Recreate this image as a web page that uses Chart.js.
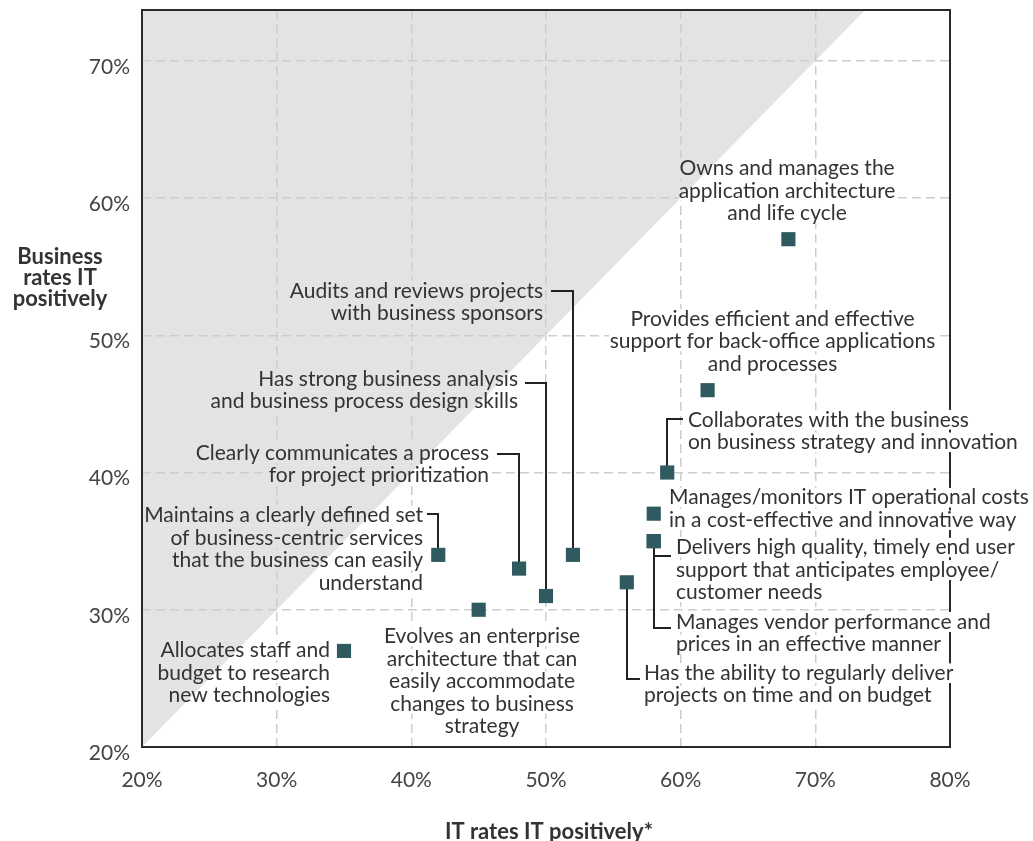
<!DOCTYPE html>
<html>
<head>
<meta charset="utf-8">
<script src="https://cdn.jsdelivr.net/npm/chart.js@4.4.0/dist/chart.umd.min.js"></script>
<style>
  html, body { margin: 0; padding: 0; background: #fff; }
</style>
</head>
<body>
<canvas id="chart" width="1033" height="841"></canvas>
<script>
// IT practices, rated by IT (x) and by the business (y), in percent
const practices = [
  'Allocates staff and budget to research new technologies',
  'Maintains a clearly defined set of business-centric services',
  'Evolves an enterprise architecture',
  'Clearly communicates a process for project prioritization',
  'Has strong business analysis and business process design skills',
  'Audits and reviews projects with business sponsors',
  'Has the ability to regularly deliver projects on time and on budget',
  'Delivers high quality, timely end user support',
  'Manages vendor performance and prices in an effective manner',
  'Manages/monitors IT operational costs',
  'Collaborates with the business on business strategy and innovation',
  'Provides efficient and effective support for back-office applications',
  'Owns and manages the application architecture and life cycle'
];
const itRates = [35, 42, 45, 48, 50, 52, 56, 58, 58, 58, 59, 62, 68];
const businessRates = [27, 34, 30, 33, 31, 34, 32, 35, 35, 37, 40, 46, 57];
const xTicks = [20, 30, 40, 50, 60, 70, 80];
const yTicks = [20, 30, 40, 50, 60, 70];

const FONT = 'Lato, "Open Sans", sans-serif';
const TEXT = '#333';
const SHADE = '#e3e3e3';

// label layout: first-line anchor and leader path, in data units
const callouts = [
  { lines: ['Allocates staff and', 'budget to research', 'new technologies'], align: 'right', at: [33.96, 27.05] },
  { lines: ['Maintains a clearly defined set', 'of business-centric services', 'that the business can easily', 'understand'], align: 'right', at: [40.87, 36.86],
    leader: [[41.16, 37.0], [42, 37.0], [42, 34]] },
  { lines: ['Evolves an enterprise', 'architecture that can', 'easily accommodate', 'changes to business', 'strategy'], align: 'center', at: [45.25, 28.07] },
  { lines: ['Clearly communicates a process', 'for project prioritization'], align: 'right', at: [45.77, 41.44],
    leader: [[46.36, 41.37], [48, 41.37], [48, 33]] },
  { lines: ['Has strong business analysis', 'and business process design skills'], align: 'right', at: [47.92, 46.82],
    leader: [[48.44, 46.53], [50, 46.53], [50, 31]] },
  { lines: ['Audits and reviews projects', 'with business sponsors'], align: 'right', at: [49.78, 53.21],
    leader: [[50.37, 53.2], [52, 53.2], [52, 34]] },
  { lines: ['Has the ability to regularly deliver', 'projects on time and on budget'], align: 'left', at: [57.28, 25.38],
    leader: [[56, 32], [56, 24.94], [56.98, 24.94]] },
  { lines: ['Delivers high quality, timely end user', 'support that anticipates employee/', 'customer needs'], align: 'left', at: [59.65, 34.53],
    leader: [[58.02, 33.95], [59.28, 33.95]] },
  { lines: ['Manages vendor performance and', 'prices in an effective manner'], align: 'left', at: [59.65, 29.11],
    leader: [[58.02, 35], [58.02, 28.65], [59.28, 28.65]] },
  { lines: ['Manages/monitors IT operational costs', 'in a cost-effective and innovative way'], align: 'left', at: [59.13, 38.17] },
  { lines: ['Collaborates with the business', 'on business strategy and innovation'], align: 'left', at: [60.54, 43.84],
    leader: [[59, 40], [59, 43.9], [60.15, 43.9]] },
  { lines: ['Provides efficient and effective', 'support for back-office applications', 'and processes'], align: 'center', at: [66.82, 51.18] },
  { lines: ['Owns and manages the', 'application architecture', 'and life cycle'], align: 'center', at: [67.9, 62.17] }
];

function shadePath(chart) {
  const { ctx, chartArea: a, scales: { x, y } } = chart;
  ctx.beginPath();
  ctx.moveTo(x.getPixelForValue(x.min), y.getPixelForValue(x.min));
  ctx.lineTo(x.getPixelForValue(y.max), y.getPixelForValue(y.max));
  ctx.lineTo(a.left, a.top);
  ctx.closePath();
}

// grey "business rates lower than IT" wedge, under the grid
const shadePlugin = {
  id: 'shade',
  beforeDraw(chart) {
    const ctx = chart.ctx;
    ctx.save();
    ctx.fillStyle = SHADE;
    shadePath(chart);
    ctx.fill();
    ctx.restore();
  }
};

const calloutPlugin = {
  id: 'callouts',
  beforeDatasetsDraw(chart) {
    const { ctx, chartArea: a, scales: { x, y } } = chart;
    ctx.save();

    // frame
    ctx.strokeStyle = '#2a2a2a';
    ctx.lineWidth = 2;
    ctx.strokeRect(a.left, a.top, a.width, a.height);

    ctx.font = '21px ' + FONT;
    ctx.textBaseline = 'middle';
    const lh = 22.5;
    callouts.forEach(c => {
      const px = x.getPixelForValue(c.at[0]);
      const py = y.getPixelForValue(c.at[1]);
      ctx.textAlign = c.align;
      c.lines.forEach((t, i) => {
        const ty = py + i * lh;
        const w = ctx.measureText(t).width;
        let x0 = px;
        if (c.align === 'right') x0 = px - w;
        if (c.align === 'center') x0 = px - w / 2;
        // knock out grid under the text
        ctx.save();
        ctx.beginPath();
        ctx.rect(x0 - 1, ty - 10, w + 2, 20);
        ctx.clip();
        ctx.fillStyle = '#fff';
        ctx.fillRect(x0 - 1, ty - 10, w + 2, 20);
        ctx.fillStyle = SHADE;
        shadePath(chart);
        ctx.fill();
        ctx.restore();
        ctx.fillStyle = TEXT;
        ctx.fillText(t, px, ty);
      });
      if (c.leader) {
        ctx.strokeStyle = '#222';
        ctx.lineWidth = 2;
        ctx.beginPath();
        c.leader.forEach((p, i) => {
          const lx = Math.round(x.getPixelForValue(p[0]));
          const ly = Math.round(y.getPixelForValue(p[1]));
          if (i === 0) ctx.moveTo(lx, ly); else ctx.lineTo(lx, ly);
        });
        ctx.stroke();
      }
    });

    // axis titles
    ctx.fillStyle = TEXT;
    ctx.font = 'bold 22px ' + FONT;
    ctx.textAlign = 'center';
    ['Business', 'rates IT', 'positively'].forEach((t, i) => {
      ctx.fillText(t, 60, 257 + i * 21);
    });
    ctx.fillText('IT rates IT positively*', 549, 832);
    ctx.restore();
  }
};

const tickFont = { family: FONT, size: 21 };

new Chart(document.getElementById('chart'), {
  type: 'scatter',
  data: {
    labels: practices,
    datasets: [{
      label: 'Practices',
      data: itRates.map((v, i) => ({ x: v, y: businessRates[i] })),
      pointStyle: 'rect',
      pointRadius: 10,
      pointHoverRadius: 10,
      borderWidth: 0,
      backgroundColor: '#2f5a5f'
    }]
  },
  options: {
    responsive: false,
    animation: false,
    layout: { padding: { top: 8, right: 83, left: 0, bottom: 0 } },
    plugins: { legend: { display: false }, tooltip: { enabled: false } },
    scales: {
      x: {
        type: 'linear',
        min: xTicks[0],
        max: xTicks[xTicks.length - 1],
        afterBuildTicks: s => { s.ticks = xTicks.map(v => ({ value: v })); },
        ticks: { callback: v => v + '%', font: tickFont, color: '#444', padding: 21, maxRotation: 0 },
        grid: { color: '#cdcdcd', lineWidth: 1.5, drawTicks: false },
        border: { display: false, dash: [9, 5] },
        afterFit: s => { s.height = 94; s.paddingLeft = 0; s.paddingRight = 0; }
      },
      y: {
        type: 'linear',
        min: yTicks[0],
        max: 73.7,
        afterBuildTicks: s => { s.ticks = yTicks.map(v => ({ value: v })); },
        ticks: { callback: v => v + '%', font: tickFont, color: '#444', padding: 12, labelOffset: 6 },
        grid: { color: '#cdcdcd', lineWidth: 1.5, drawTicks: false },
        border: { display: false, dash: [9, 5] },
        afterFit: s => { s.width = 142; s.paddingTop = 0; s.paddingBottom = 0; }
      }
    }
  },
  plugins: [shadePlugin, calloutPlugin]
});
</script>
</body>
</html>
